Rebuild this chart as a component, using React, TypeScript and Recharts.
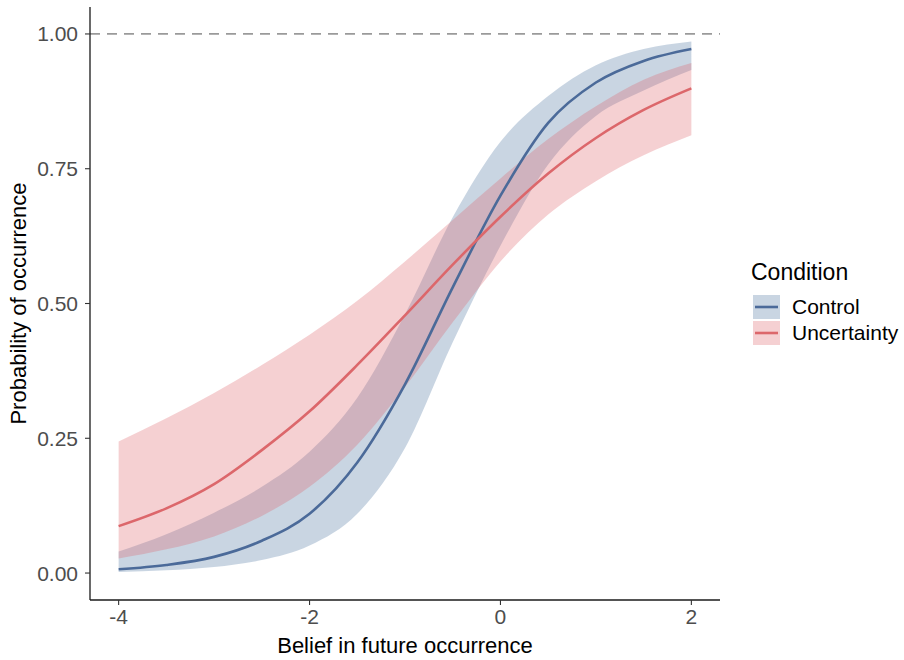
import React from 'react';
import {
  ComposedChart,
  Area,
  Line,
  XAxis,
  YAxis,
  ReferenceLine,
  Legend,
  Label,
} from 'recharts';

// Predicted probability of occurrence by belief score, with 95% bands
const belief = [-4, -3.5, -3, -2.5, -2, -1.5, -1, -0.5, 0, 0.5, 1, 1.5, 2];

const controlMean = [0.007, 0.015, 0.03, 0.06, 0.11, 0.205, 0.35, 0.53, 0.7, 0.835, 0.91, 0.95, 0.972];
const controlLower = [0.002, 0.005, 0.011, 0.024, 0.051, 0.11, 0.232, 0.428, 0.607, 0.758, 0.848, 0.895, 0.933];
const controlUpper = [0.04, 0.072, 0.112, 0.16, 0.225, 0.325, 0.48, 0.66, 0.8, 0.885, 0.942, 0.972, 0.986];

const uncertaintyMean = [0.087, 0.12, 0.165, 0.228, 0.3, 0.386, 0.478, 0.572, 0.661, 0.741, 0.807, 0.859, 0.899];
const uncertaintyLower = [0.027, 0.044, 0.068, 0.106, 0.16, 0.238, 0.345, 0.465, 0.578, 0.665, 0.727, 0.775, 0.812];
const uncertaintyUpper = [0.244, 0.287, 0.334, 0.386, 0.442, 0.505, 0.578, 0.655, 0.732, 0.805, 0.866, 0.915, 0.946];

const xTicks = [-4, -2, 0, 2];
const yTicks = [0, 0.25, 0.5, 0.75, 1];
const conditions = ['Control', 'Uncertainty'];

const LINE_COLORS = ['#4b6a99', '#dc676b'];
const FILL_COLORS = ['#4b739e', '#de6269'];
const FILL_OPACITY = 0.3;
const FONT = '"Liberation Sans", Arial, sans-serif';

const data = belief.map((x, i) => ({
  x,
  controlBand: [controlLower[i], controlUpper[i]],
  control: controlMean[i],
  uncertaintyBand: [uncertaintyLower[i], uncertaintyUpper[i]],
  uncertainty: uncertaintyMean[i],
}));

const YTitle = (props: any) => {
  const vb = props.viewBox || {};
  const cx = vb.x + 18;
  const cy = vb.y + vb.height / 2;
  return (
    <text
      x={cx}
      y={cy}
      transform={`rotate(-90, ${cx}, ${cy})`}
      textAnchor="middle"
      dominantBaseline="central"
      fontSize={22}
      fontFamily={FONT}
      fill="#000"
    >
      Probability of occurrence
    </text>
  );
};

const XTitle = (props: any) => {
  const vb = props.viewBox || {};
  return (
    <text
      x={vb.x + vb.width / 2}
      y={vb.y + 53}
      textAnchor="middle"
      fontSize={22}
      fontFamily={FONT}
      fill="#000"
    >
      Belief in future occurrence
    </text>
  );
};

const ConditionLegend = () => (
  <div style={{ fontFamily: FONT, color: '#000' }}>
    <div style={{ fontSize: 23, lineHeight: '26px', marginBottom: 9 }}>Condition</div>
    {conditions.map((name, i) => (
      <div key={name} style={{ display: 'flex', alignItems: 'center', height: 26 }}>
        <svg width={30} height={26} style={{ display: 'block' }}>
          <rect x={2} y={1} width={27} height={24} fill={FILL_COLORS[i]} fillOpacity={FILL_OPACITY} />
          <line x1={4} x2={27} y1={13} y2={13} stroke={LINE_COLORS[i]} strokeWidth={2.6} />
        </svg>
        <span style={{ fontSize: 21, marginLeft: 11 }}>{name}</span>
      </div>
    ))}
  </div>
);

export default function App() {
  return (
    <div style={{ position: 'absolute', left: 0, top: 0, width: 904, height: 660, background: '#fff' }}>
      <ComposedChart
        width={904}
        height={660}
        data={data}
        margin={{ top: 7, right: 184, bottom: 0, left: 0 }}
      >
        <XAxis
          type="number"
          dataKey="x"
          domain={[-4.3, 2.3]}
          ticks={xTicks}
          height={60}
          tickFormatter={(v: number) => String(v)}
          axisLine={{ stroke: '#1a1a1a', strokeWidth: 1.3 }}
          tickLine={{ stroke: '#333', strokeWidth: 1.1 }}
          tickSize={5}
          tickMargin={4}
          tick={{ fill: '#4d4d4d', fontSize: 21, fontFamily: FONT }}
        >
          <Label content={<XTitle />} />
        </XAxis>
        <YAxis
          type="number"
          domain={[-0.05, 1.05]}
          ticks={yTicks}
          width={90}
          tickFormatter={(v: number) => v.toFixed(2)}
          axisLine={{ stroke: '#1a1a1a', strokeWidth: 1.3 }}
          tickLine={{ stroke: '#333', strokeWidth: 1.1 }}
          tickSize={5}
          tickMargin={7}
          tick={{ fill: '#4d4d4d', fontSize: 21, fontFamily: FONT }}
        >
          <Label content={<YTitle />} />
        </YAxis>
        <ReferenceLine y={1} stroke="#9a9a9a" strokeWidth={1.8} strokeDasharray="10 7" />
        <Area
          type="monotone"
          dataKey="controlBand"
          stroke="none"
          fill={FILL_COLORS[0]}
          fillOpacity={FILL_OPACITY}
          isAnimationActive={false}
          activeDot={false}
        />
        <Area
          type="monotone"
          dataKey="uncertaintyBand"
          stroke="none"
          fill={FILL_COLORS[1]}
          fillOpacity={FILL_OPACITY}
          isAnimationActive={false}
          activeDot={false}
        />
        <Line
          type="monotone"
          dataKey="control"
          stroke={LINE_COLORS[0]}
          strokeWidth={2.6}
          dot={false}
          activeDot={false}
          isAnimationActive={false}
        />
        <Line
          type="monotone"
          dataKey="uncertainty"
          stroke={LINE_COLORS[1]}
          strokeWidth={2.6}
          dot={false}
          activeDot={false}
          isAnimationActive={false}
        />
        <Legend
          layout="vertical"
          align="center"
          verticalAlign="middle"
          content={<ConditionLegend />}
          wrapperStyle={{ left: 751, top: 259, width: 153 }}
        />
      </ComposedChart>
    </div>
  );
}
